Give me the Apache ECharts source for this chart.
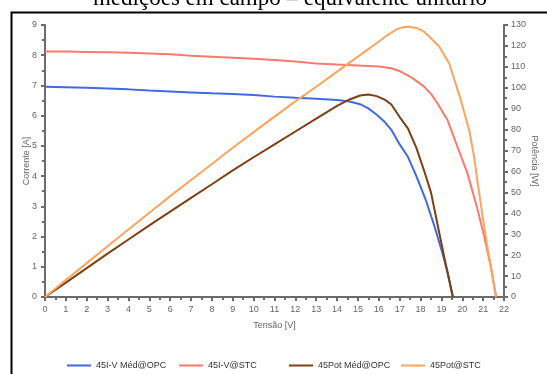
<!DOCTYPE html>
<html>
<head>
<meta charset="utf-8">
<title>Curvas I-V e Potência</title>
<script src="https://cdn.jsdelivr.net/npm/echarts@6/dist/echarts.min.js"></script>
<style>
    html, body { margin: 0; padding: 0; background: #fff; }
    #chart { width: 547px; height: 374px; }
</style>
</head>
<body>
<div id="chart"></div>
<script>
// nomes das series
var seriesNames = ['45I-V Méd@OPC', '45I-V@STC', '45Pot Méd@OPC', '45Pot@STC'];

// corrente medida [V, A]
var ivMed = [[0,6.96],[1,6.94],[2,6.92],[3,6.90],[4,6.87],[5,6.83],[6,6.80],[7,6.77],[8,6.74],[9,6.72],
    [10,6.68],[11,6.63],[12,6.59],[13,6.56],[14,6.52],[14.6,6.47],[15.1,6.38],[15.5,6.24],[15.9,6.03],
    [16.3,5.78],[16.6,5.53],[17.0,5.05],[17.4,4.63],[17.8,4.00],[18.25,3.21],[18.65,2.38],[19.05,1.45],
    [19.3,0.80],[19.55,0]];

// corrente STC [V, A]
var ivStc = [[0,8.12],[1,8.12],[2,8.11],[3,8.10],[4,8.08],[5,8.06],[6,8.03],[7,7.98],[8,7.95],[9,7.92],
    [10,7.88],[11,7.84],[12,7.79],[13,7.73],[14,7.69],[15,7.66],[16,7.63],[16.6,7.57],[17.05,7.46],
    [17.6,7.25],[18.17,6.96],[18.5,6.72],[18.81,6.41],[19.29,5.86],[19.77,4.97],[20.25,4.09],
    [20.74,2.88],[21.05,2.0],[21.37,1.0],[21.62,0]];

// potencia medida [V, W]
var potMed = [[0,0],[1,6.9],[2,13.8],[3,20.7],[4,27.5],[5,34.2],[6,40.8],[7,47.4],[8,53.9],[9,60.5],
    [10,66.8],[11,72.9],[12,79.1],[13,85.3],[14,91.3],[14.6,94.4],[15.1,96.3],[15.5,96.8],[15.9,96.0],
    [16.3,94.2],[16.6,92.0],[17.0,86.0],[17.4,80.5],[17.8,71.3],[18.2,59.5],[18.5,50.0],[18.9,30.5],
    [19.2,16.0],[19.55,0]];

// potencia STC [V, W]
var potStc = [[0,0],[1,8.1],[2,16.2],[3,24.3],[4,32.3],[5,40.3],[6,48.2],[7,55.9],[8,63.6],[9,71.3],
    [10,78.8],[11,86.2],[12,93.5],[13,100.5],[14,107.7],[15,114.9],[16,122.1],[16.5,125.8],[16.9,128.2],
    [17.2,129.0],[17.45,129.2],[17.8,128.6],[18.17,126.8],[18.5,123.7],[18.9,119.6],[19.37,111.7],
    [19.93,94.2],[20.33,79.8],[20.57,67.0],[20.74,54.3],[20.98,38.4],[21.2,24.0],[21.45,9.7],[21.62,0]];

var colors = ['#4169e1', '#fa7a6c', '#7f3f12', '#fba45d'];
var legendLeft = [67, 179, 289, 401];

var axisGray = '#6b6b6b';
var labelGray = '#666';

function legendAt(i) {
    return {
        data: [seriesNames[i]],
        left: legendLeft[i],
        top: 361,
        icon: 'rect',
        itemWidth: 24,
        itemHeight: 2,
        itemGap: 5,
        padding: 0,
        textStyle: { fontSize: 9, color: '#333', fontFamily: 'Liberation Sans, Arial' }
    };
}

var myChart = echarts.init(document.getElementById('chart'));

option = {
    animation: false,
    color: colors,
    textStyle: { fontFamily: 'Liberation Sans, Arial' },
    graphic: [
        {
            type: 'text',
            x: 290,
            y: 10,
            style: {
                text: 'medições em campo – equivalente unitário',
                font: '23px "Liberation Serif", "Times New Roman", serif',
                fill: '#000',
                textAlign: 'center',
                textVerticalAlign: 'bottom'
            },
            silent: true
        },
        {
            type: 'polyline',
            shape: { points: [[11.5, 374], [11.5, 12.5], [547, 12.5]] },
            style: { stroke: '#000', lineWidth: 2, fill: null },
            silent: true
        }
    ],
    legend: [legendAt(0), legendAt(1), legendAt(2), legendAt(3)],
    grid: { left: 45, right: 43, top: 25, bottom: 77, outerBoundsMode: 'none' },
    xAxis: {
        type: 'value',
        min: 0, max: 22, interval: 1,
        name: 'Tensão [V]',
        nameLocation: 'middle',
        nameGap: 24,
        nameTextStyle: { fontSize: 9, color: labelGray },
        axisLine: { lineStyle: { color: axisGray, width: 2 } },
        axisTick: { length: 4, lineStyle: { color: axisGray, width: 2 } },
        minorTick: { show: true, splitNumber: 2, length: 3, lineStyle: { color: axisGray, width: 2 } },
        axisLabel: { fontSize: 9, color: labelGray, margin: 8 },
        splitLine: { show: false }
    },
    yAxis: [
        {
            type: 'value',
            min: 0, max: 9, interval: 1,
            name: 'Corrente [A]',
            nameLocation: 'middle',
            nameGap: 14,
            nameMoveOverlap: false,
            nameTextStyle: { fontSize: 9, color: labelGray },
            axisLine: { show: true, lineStyle: { color: axisGray, width: 2 } },
            axisTick: { show: true, length: 4, lineStyle: { color: axisGray, width: 2 } },
            minorTick: { show: true, splitNumber: 2, length: 3, lineStyle: { color: axisGray, width: 2 } },
            axisLabel: { fontSize: 9, color: labelGray, margin: 8 },
            splitLine: { show: false }
        },
        {
            type: 'value',
            min: 0, max: 130, interval: 10,
            position: 'right',
            name: 'Potência [W]',
            nameLocation: 'middle',
            nameGap: 26,
            nameMoveOverlap: false,
            nameRotate: -90,
            nameTextStyle: { fontSize: 9, color: labelGray },
            axisLine: { show: true, lineStyle: { color: axisGray, width: 2 } },
            axisTick: { show: true, length: 4, lineStyle: { color: axisGray, width: 2 } },
            minorTick: { show: true, splitNumber: 2, length: 3, lineStyle: { color: axisGray, width: 2 } },
            axisLabel: { fontSize: 9, color: labelGray, margin: 7 },
            splitLine: { show: false }
        }
    ],
    series: [
        { name: seriesNames[0], type: 'line', yAxisIndex: 0, data: ivMed, showSymbol: false, lineStyle: { width: 2 } },
        { name: seriesNames[1], type: 'line', yAxisIndex: 0, data: ivStc, showSymbol: false, lineStyle: { width: 2 } },
        { name: seriesNames[2], type: 'line', yAxisIndex: 1, data: potMed, showSymbol: false, lineStyle: { width: 2 } },
        { name: seriesNames[3], type: 'line', yAxisIndex: 1, data: potStc, showSymbol: false, lineStyle: { width: 2 } }
    ]
};

myChart.setOption(option);
</script>
</body>
</html>
